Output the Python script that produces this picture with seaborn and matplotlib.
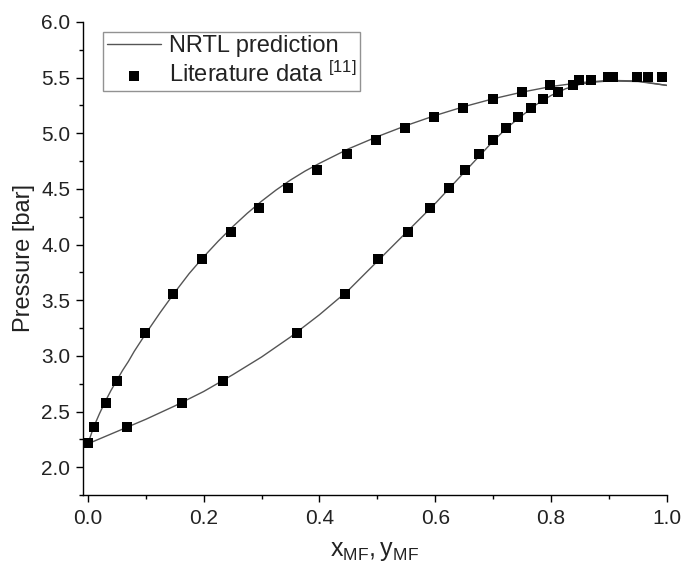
import matplotlib
matplotlib.use("Agg")
import matplotlib.pyplot as plt
import seaborn as sns
import pandas as pd
from matplotlib.ticker import MultipleLocator

# ---- data ----
# NRTL bubble curve (P vs x)
x_line = [0.0, 0.01, 0.02, 0.03, 0.04, 0.05, 0.06, 0.07, 0.08, 0.09, 0.10, 0.125, 0.15,
          0.175, 0.20, 0.225, 0.25, 0.275, 0.30, 0.325, 0.35, 0.375, 0.40, 0.45, 0.50,
          0.55, 0.60, 0.65, 0.70, 0.75, 0.80, 0.85, 0.90, 0.95, 1.00]
P_x_line = [2.21, 2.36, 2.48, 2.59, 2.69, 2.78, 2.87, 2.95, 3.04, 3.12, 3.20, 3.39, 3.57,
            3.74, 3.89, 4.03, 4.16, 4.28, 4.39, 4.49, 4.58, 4.66, 4.73, 4.86, 4.97,
            5.07, 5.16, 5.24, 5.31, 5.37, 5.42, 5.455, 5.475, 5.47, 5.43]
# NRTL dew curve (P vs y)
y_line = [0.0, 0.05, 0.10, 0.15, 0.20, 0.25, 0.30, 0.35, 0.40, 0.45, 0.50, 0.55, 0.60,
          0.65, 0.70, 0.725, 0.75, 0.775, 0.80, 0.825, 0.85, 0.875, 0.90, 0.95, 1.00]
P_y_line = [2.21, 2.32, 2.43, 2.55, 2.68, 2.83, 2.99, 3.17, 3.37, 3.59, 3.85, 4.11, 4.37,
            4.65, 4.93, 5.055, 5.16, 5.26, 5.34, 5.40, 5.44, 5.46, 5.47, 5.465, 5.43]

# Literature data
x_exp = [0.0, 0.010, 0.031, 0.050, 0.098, 0.147, 0.197, 0.247, 0.295, 0.345, 0.395,
         0.447, 0.497, 0.547, 0.598, 0.648, 0.700, 0.750, 0.798, 0.848, 0.898, 0.948, 0.991]
P_x_exp = [2.22, 2.36, 2.58, 2.77, 3.21, 3.56, 3.87, 4.11, 4.33, 4.51, 4.67,
           4.81, 4.94, 5.05, 5.15, 5.23, 5.31, 5.37, 5.43, 5.48, 5.51, 5.51, 5.51]
y_exp = [0.0, 0.067, 0.162, 0.233, 0.361, 0.444, 0.501, 0.553, 0.591, 0.623, 0.651,
         0.675, 0.700, 0.722, 0.743, 0.765, 0.786, 0.812, 0.838, 0.869, 0.907, 0.967]
P_y_exp = [2.22, 2.36, 2.58, 2.77, 3.21, 3.56, 3.87, 4.11, 4.33, 4.51, 4.67,
           4.81, 4.94, 5.05, 5.15, 5.23, 5.31, 5.37, 5.43, 5.48, 5.51, 5.51]

x_ticks = [0.0, 0.2, 0.4, 0.6, 0.8, 1.0]
y_ticks = [2.0, 2.5, 3.0, 3.5, 4.0, 4.5, 5.0, 5.5, 6.0]

# ---- style ----
sns.set_theme(style="ticks")
plt.rcParams["font.family"] = ["Liberation Sans", "DejaVu Sans"]
plt.rcParams["mathtext.fontset"] = "custom"
plt.rcParams["mathtext.rm"] = "Liberation Sans"
plt.rcParams["mathtext.it"] = "Liberation Sans"

fig = plt.figure(figsize=(6.83, 5.72), dpi=100)
ax = fig.add_axes([0.121, 0.1346, 0.8555, 0.827])

line_color = "#555555"
df_xl = pd.DataFrame({"comp": x_line, "P": P_x_line})
df_yl = pd.DataFrame({"comp": y_line, "P": P_y_line})
sns.lineplot(data=df_xl, x="comp", y="P", ax=ax, color=line_color, linewidth=1.0,
             sort=False, estimator=None, label="NRTL prediction")
sns.lineplot(data=df_yl, x="comp", y="P", ax=ax, color=line_color, linewidth=1.0,
             sort=False, estimator=None, label="_nolegend_")

exp_comp = x_exp + y_exp
exp_P = P_x_exp + P_y_exp
df_exp = pd.DataFrame({"comp": exp_comp, "P": exp_P})
sns.scatterplot(data=df_exp, x="comp", y="P", ax=ax, marker="s", s=55, color="black",
                edgecolor="black", linewidth=0,
                label="Literature data $^{\\mathrm{[11]}}$", zorder=3)

ax.set_xlim(-0.009, 1.0)
ax.set_ylim(1.75, 6.0)
ax.set_xticks(x_ticks)
ax.set_yticks(y_ticks)
ax.set_xticklabels([f"{v:.1f}" for v in x_ticks])
ax.set_yticklabels([f"{v:.1f}" for v in y_ticks])
ax.xaxis.set_minor_locator(MultipleLocator(0.1))
ax.yaxis.set_minor_locator(MultipleLocator(0.25))
ax.tick_params(axis="both", which="major", direction="out", length=5, width=1.0,
               labelsize=15, color="black", labelcolor="#222222")
ax.tick_params(axis="x", which="major", pad=5)
ax.tick_params(axis="y", which="major", pad=4)
ax.tick_params(axis="both", which="minor", direction="out", length=3, width=1.0,
               color="black")
sns.despine(ax=ax)
for sp in ["left", "bottom"]:
    ax.spines[sp].set_color("black")
    ax.spines[sp].set_linewidth(1.0)

ax.set_xlabel("$\\mathrm{x_{MF}, y_{MF}}$", fontsize=18, color="#222222", labelpad=8)
ax.set_ylabel("Pressure [bar]", fontsize=17, color="#222222", labelpad=4)

leg = ax.legend(loc="upper left", bbox_to_anchor=(0.035, 0.979), borderaxespad=0,
                fontsize=17, frameon=True, fancybox=False, edgecolor="#777777",
                handlelength=2.3, handletextpad=0.35, borderpad=0.15,
                labelspacing=0.2, markerscale=1.0)
leg.get_frame().set_linewidth(1.0)
for t in leg.get_texts():
    t.set_color("#222222")

fig.savefig("out.png", dpi=100)
